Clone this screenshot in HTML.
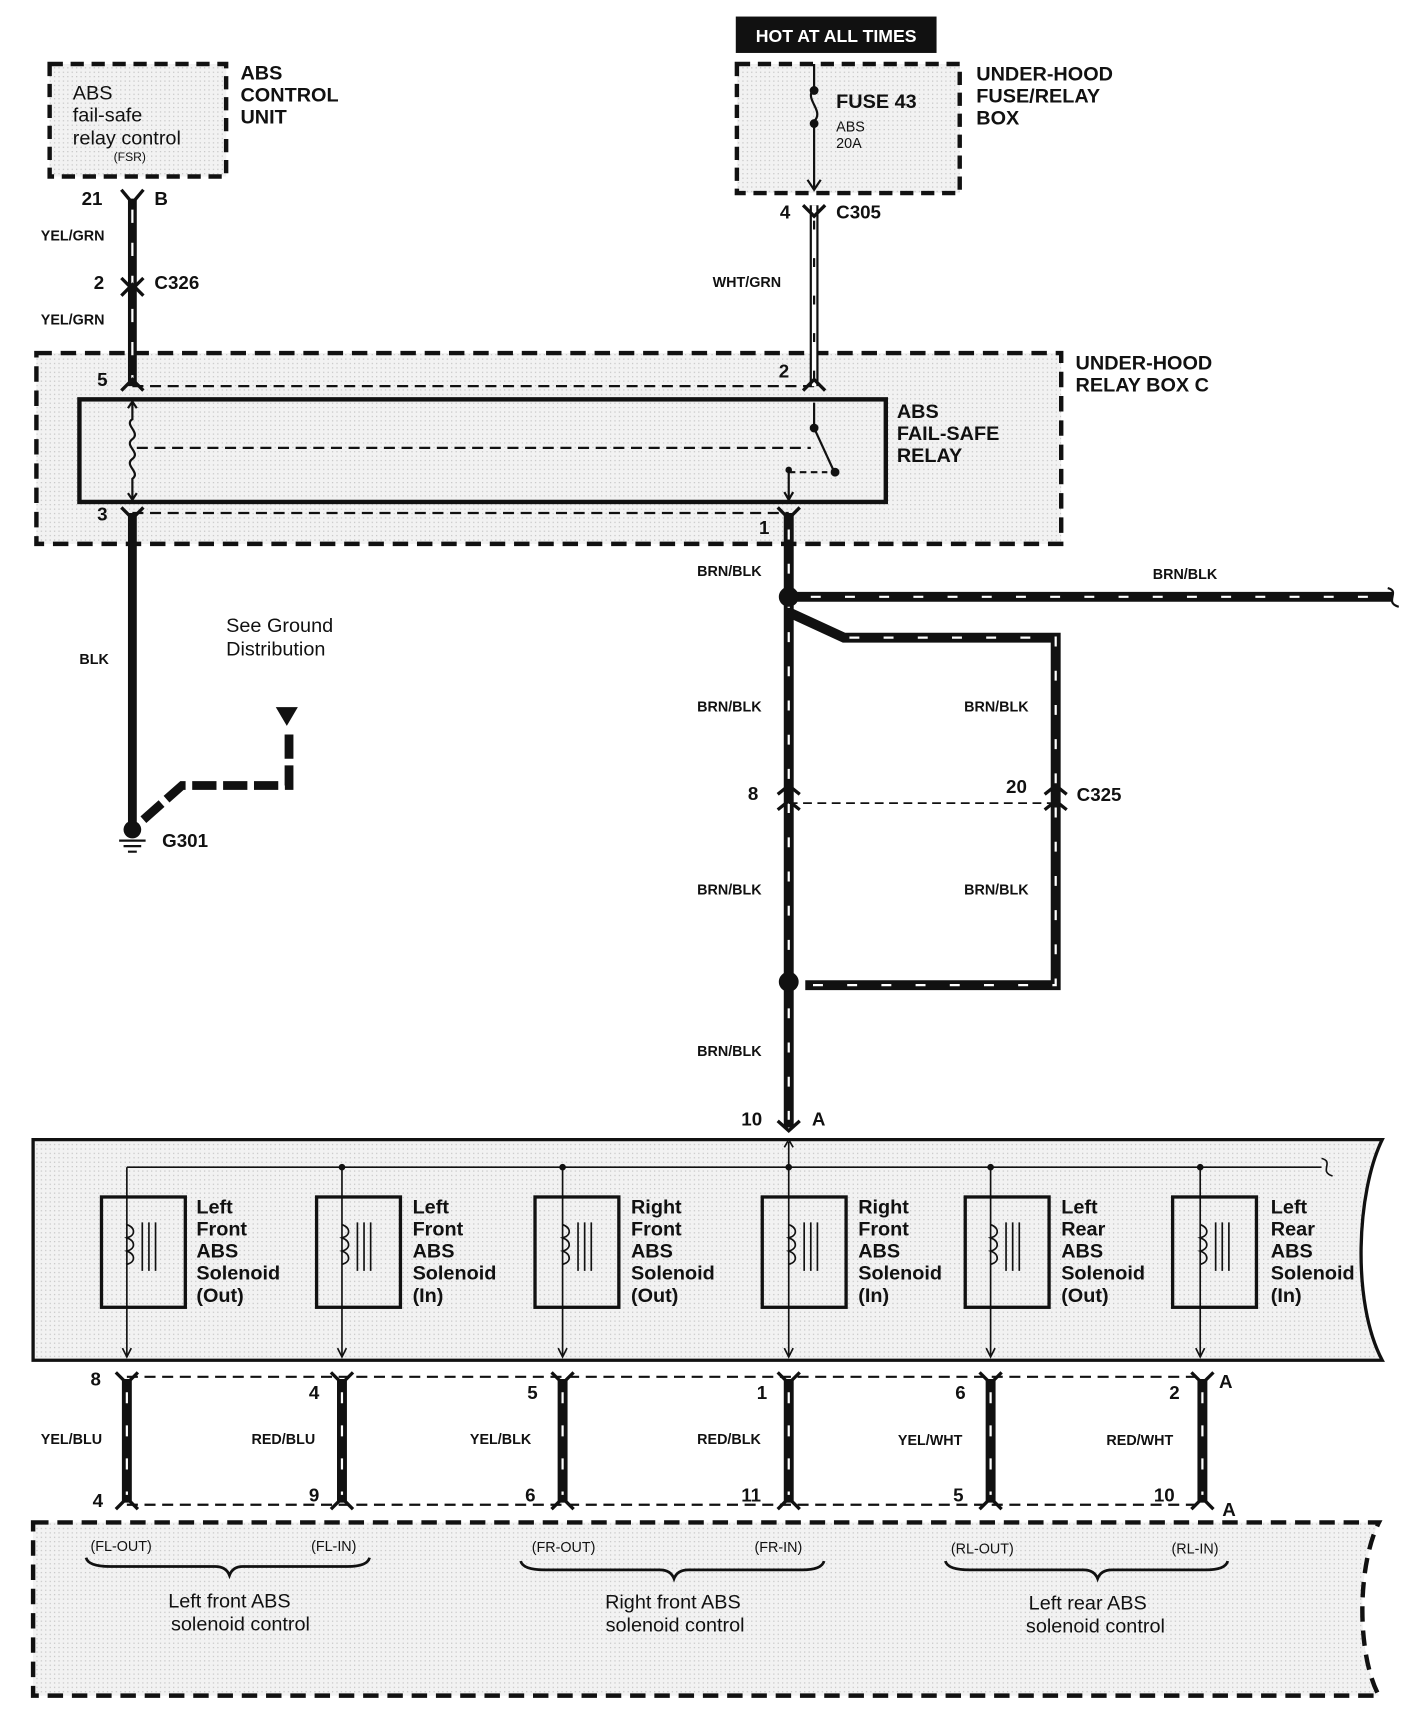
<!DOCTYPE html>
<html><head><meta charset="utf-8"><style>
html,body{margin:0;padding:0;background:#fff}
svg{display:block}
text{font-family:"Liberation Sans",sans-serif;fill:#111}
.b{font-weight:bold}
</style></head><body>
<svg width="1412" height="1721" viewBox="0 0 1280 1560" preserveAspectRatio="none" xmlns="http://www.w3.org/2000/svg">
<defs>
<pattern id="dots" width="4" height="4" patternUnits="userSpaceOnUse"><rect width="4" height="4" fill="#f2f2f2"/><rect x="1" y="1" width="1" height="1" fill="#bbb"/></pattern>
</defs>
<rect width="1280" height="1560" fill="#fff"/>

<!-- ABS control unit -->
<rect x="45" y="58" width="160" height="102" fill="url(#dots)" stroke="#111" stroke-width="4" stroke-dasharray="12,7"/>
<text x="66" y="90" font-size="18">ABS</text>
<text x="66" y="110" font-size="18">fail-safe</text>
<text x="66" y="131" font-size="18">relay control</text>
<text x="103" y="146" font-size="11">(FSR)</text>
<text class="b" x="218" y="72" font-size="18">ABS</text>
<text class="b" x="218" y="92" font-size="18">CONTROL</text>
<text class="b" x="218" y="112" font-size="18">UNIT</text>

<!-- HOT AT ALL TIMES -->
<rect x="667" y="15" width="182" height="33" fill="#111"/>
<text class="b" x="758" y="38" font-size="16" text-anchor="middle" style="fill:#fff">HOT AT ALL TIMES</text>
<rect x="668" y="58" width="202" height="117" fill="url(#dots)" stroke="#111" stroke-width="4" stroke-dasharray="12,7"/>
<path d="M738 58 V80 M738 80 C728 90 748 100 738 110 V170" fill="none" stroke="#111" stroke-width="2"/>
<circle cx="738" cy="82" r="4" fill="#111"/><circle cx="738" cy="112" r="4" fill="#111"/>
<path d="M732 163 L738 172 L744 163" fill="none" stroke="#111" stroke-width="2"/>
<text class="b" x="758" y="98" font-size="18">FUSE 43</text>
<text x="758" y="119" font-size="13">ABS</text>
<text x="758" y="134" font-size="13">20A</text>
<text class="b" x="885" y="73" font-size="18">UNDER-HOOD</text>
<text class="b" x="885" y="93" font-size="18">FUSE/RELAY</text>
<text class="b" x="885" y="113" font-size="18">BOX</text>

<!-- relay box C -->
<rect x="33" y="320" width="929" height="173" fill="url(#dots)" stroke="#111" stroke-width="4" stroke-dasharray="14,8"/>
<text class="b" x="975" y="335" font-size="18">UNDER-HOOD</text>
<text class="b" x="975" y="355" font-size="18">RELAY BOX C</text>
<line x1="120" y1="350" x2="738" y2="350" stroke="#111" stroke-width="2" stroke-dasharray="10,6"/>
<line x1="120" y1="465" x2="715" y2="465" stroke="#111" stroke-width="2" stroke-dasharray="10,6"/>
<rect x="72" y="362" width="731" height="93" fill="none" stroke="#111" stroke-width="4"/>
<text class="b" x="813" y="379" font-size="18">ABS</text>
<text class="b" x="813" y="399" font-size="18">FAIL-SAFE</text>
<text class="b" x="813" y="419" font-size="18">RELAY</text>
<path d="M120 365 V380 C112 385 128 392 120 398 C112 404 128 410 120 416 C112 422 128 428 120 434 V452" fill="none" stroke="#111" stroke-width="2"/>
<path d="M116 370 L120 364 L124 370 M116 447 L120 453 L124 447" fill="none" stroke="#111" stroke-width="2"/>
<line x1="124" y1="406" x2="735" y2="406" stroke="#111" stroke-width="2" stroke-dasharray="10,6"/>
<path d="M738 365 V388 L755 425" fill="none" stroke="#111" stroke-width="2"/>
<circle cx="738" cy="388" r="4" fill="#111"/><circle cx="757" cy="428" r="4" fill="#111"/>
<path d="M715 428 H750" stroke="#111" stroke-width="2" stroke-dasharray="6,4"/>
<path d="M715 425 V452 M711 446 L715 453 L719 446" fill="none" stroke="#111" stroke-width="2"/>
<circle cx="715" cy="426" r="3" fill="#111"/>

<!-- left wire YEL/GRN -->
<g stroke-linecap="butt">
<line x1="120" y1="180" x2="120" y2="350" stroke="#111" stroke-width="8"/>
<line x1="120" y1="190" x2="120" y2="345" stroke="#fff" stroke-width="2" stroke-dasharray="12,18"/>
<line x1="120" y1="465" x2="120" y2="748" stroke="#111" stroke-width="8"/>
<!-- WHT/GRN -->
<line x1="738" y1="186" x2="738" y2="350" stroke="#111" stroke-width="8"/>
<line x1="738" y1="186" x2="738" y2="350" stroke="#fff" stroke-width="4"/>
<line x1="738" y1="200" x2="738" y2="345" stroke="#111" stroke-width="2" stroke-dasharray="8,26"/>
<!-- BRN/BLK main -->
<line x1="715" y1="465" x2="715" y2="1022" stroke="#111" stroke-width="9"/>
<line x1="715" y1="480" x2="715" y2="1015" stroke="#fff" stroke-width="2" stroke-dasharray="9,22"/>
<line x1="715" y1="541" x2="1262" y2="541" stroke="#111" stroke-width="9"/>
<line x1="735" y1="541" x2="1255" y2="541" stroke="#fff" stroke-width="2" stroke-dasharray="9,22"/>
<path d="M715 555 L765 578 H957 V893 H730" fill="none" stroke="#111" stroke-width="9"/>
<path d="M770 578 H957 V893 H735" fill="none" stroke="#fff" stroke-width="2" stroke-dasharray="9,22"/>
</g>
<path d="M1258 533 C1270 536 1254 546 1268 550" fill="none" stroke="#111" stroke-width="2"/>
<circle cx="715" cy="541" r="9" fill="#111"/>
<circle cx="715" cy="890" r="9" fill="#111"/>
<line x1="715" y1="728" x2="957" y2="728" stroke="#111" stroke-width="1.5" stroke-dasharray="8,5"/>

<!-- connector marks -->
<g fill="none" stroke="#111" stroke-width="3">
<path d="M110 172 L120 184 L130 172"/>
<path d="M110 252 L120 262 L130 252 M110 268 L120 258 L130 268"/>
<path d="M110 354 L120 344 L130 354"/>
<path d="M110 460 L120 470 L130 460"/>
<path d="M728 186 L738 196 L748 186"/>
<path d="M728 354 L738 344 L748 354"/>
<path d="M705 460 L715 470 L725 460"/>
<path d="M705 720 L715 712 L725 720 M705 734 L715 726 L725 734"/>
<path d="M947 720 L957 712 L967 720 M947 734 L957 726 L967 734"/>
<path d="M705 1016 L715 1025 L725 1016"/>
</g>
<text class="b" x="74" y="186" font-size="17">21</text><text class="b" x="140" y="186" font-size="17">B</text>
<text class="b" x="37" y="218" font-size="13">YEL/GRN</text>
<text class="b" x="85" y="262" font-size="17">2</text><text class="b" x="140" y="262" font-size="17">C326</text>
<text class="b" x="37" y="294" font-size="13">YEL/GRN</text>
<text class="b" x="88" y="350" font-size="17">5</text>
<text class="b" x="88" y="472" font-size="17">3</text>
<text class="b" x="72" y="602" font-size="13">BLK</text>
<text x="205" y="573" font-size="18">See Ground</text>
<text x="205" y="594" font-size="18">Distribution</text>
<text class="b" x="707" y="198" font-size="17">4</text><text class="b" x="758" y="198" font-size="17">C305</text>
<text class="b" x="646" y="260" font-size="13">WHT/GRN</text>
<text class="b" x="706" y="342" font-size="17">2</text>
<text class="b" x="688" y="484" font-size="17">1</text>
<text class="b" x="632" y="522" font-size="13">BRN/BLK</text>
<text class="b" x="1045" y="525" font-size="13">BRN/BLK</text>
<text class="b" x="632" y="645" font-size="13">BRN/BLK</text>
<text class="b" x="874" y="645" font-size="13">BRN/BLK</text>
<text class="b" x="678" y="725" font-size="17">8</text>
<text class="b" x="912" y="719" font-size="17">20</text>
<text class="b" x="976" y="726" font-size="17">C325</text>
<text class="b" x="632" y="811" font-size="13">BRN/BLK</text>
<text class="b" x="874" y="811" font-size="13">BRN/BLK</text>
<text class="b" x="632" y="957" font-size="13">BRN/BLK</text>
<text class="b" x="672" y="1020" font-size="17">10</text><text class="b" x="736" y="1020" font-size="17">A</text>

<!-- ground -->
<path d="M130 743 L165 712 H262 V665" fill="none" stroke="#111" stroke-width="8" stroke-dasharray="22,6"/>
<path d="M250 641 H270 L260 658 Z" fill="#111"/>
<circle cx="120" cy="752" r="8" fill="#111"/>
<path d="M108 762 H132 M112 767 H128 M116 772 H124" stroke="#111" stroke-width="2"/>
<text class="b" x="147" y="768" font-size="17">G301</text>

<!-- module box -->
<path d="M30 1033 H1253 C1230 1080 1225 1180 1253 1233 H30 Z" fill="url(#dots)" stroke="#111" stroke-width="3"/>
<line x1="115" y1="1058" x2="1198" y2="1058" stroke="#111" stroke-width="1.5"/>
<path d="M1198 1050 C1210 1053 1195 1062 1208 1066" fill="none" stroke="#111" stroke-width="1.5"/>
<path d="M711 1040 L715 1033 L719 1040" fill="none" stroke="#111" stroke-width="1.5"/>
<g fill="none" stroke="#111">
<g id="s1">
</g>
</g>
<!-- solenoids -->
<g font-size="18" class="b">
<g transform="translate(115,0)">
<rect x="-23" y="1085" width="76" height="100" fill="none" stroke="#111" stroke-width="3"/>
<line x1="0" y1="1058" x2="0" y2="1230" stroke="#111" stroke-width="1.5"/>
<path d="M0 1110 C8 1113 8 1120 0 1122 C8 1125 8 1132 0 1134 C8 1137 8 1144 0 1146" fill="none" stroke="#111" stroke-width="1.5"/>
<path d="M14 1108 V1152 M20 1108 V1152 M26 1108 V1152" stroke="#111" stroke-width="1.5"/>
<path d="M-4 1222 L0 1230 L4 1222" fill="none" stroke="#111" stroke-width="1.5"/>
</g>
<g transform="translate(310,0)">
<rect x="-23" y="1085" width="76" height="100" fill="none" stroke="#111" stroke-width="3"/>
<line x1="0" y1="1058" x2="0" y2="1230" stroke="#111" stroke-width="1.5"/><circle cx="0" cy="1058" r="3" fill="#111"/>
<path d="M0 1110 C8 1113 8 1120 0 1122 C8 1125 8 1132 0 1134 C8 1137 8 1144 0 1146" fill="none" stroke="#111" stroke-width="1.5"/>
<path d="M14 1108 V1152 M20 1108 V1152 M26 1108 V1152" stroke="#111" stroke-width="1.5"/>
<path d="M-4 1222 L0 1230 L4 1222" fill="none" stroke="#111" stroke-width="1.5"/>
</g>
<g transform="translate(510,0)">
<rect x="-25" y="1085" width="76" height="100" fill="none" stroke="#111" stroke-width="3"/>
<line x1="0" y1="1058" x2="0" y2="1230" stroke="#111" stroke-width="1.5"/><circle cx="0" cy="1058" r="3" fill="#111"/>
<path d="M0 1110 C8 1113 8 1120 0 1122 C8 1125 8 1132 0 1134 C8 1137 8 1144 0 1146" fill="none" stroke="#111" stroke-width="1.5"/>
<path d="M14 1108 V1152 M20 1108 V1152 M26 1108 V1152" stroke="#111" stroke-width="1.5"/>
<path d="M-4 1222 L0 1230 L4 1222" fill="none" stroke="#111" stroke-width="1.5"/>
</g>
<g transform="translate(715,0)">
<rect x="-24" y="1085" width="76" height="100" fill="none" stroke="#111" stroke-width="3"/>
<line x1="0" y1="1035" x2="0" y2="1230" stroke="#111" stroke-width="1.5"/><circle cx="0" cy="1058" r="3" fill="#111"/>
<path d="M0 1110 C8 1113 8 1120 0 1122 C8 1125 8 1132 0 1134 C8 1137 8 1144 0 1146" fill="none" stroke="#111" stroke-width="1.5"/>
<path d="M14 1108 V1152 M20 1108 V1152 M26 1108 V1152" stroke="#111" stroke-width="1.5"/>
<path d="M-4 1222 L0 1230 L4 1222" fill="none" stroke="#111" stroke-width="1.5"/>
</g>
<g transform="translate(898,0)">
<rect x="-23" y="1085" width="76" height="100" fill="none" stroke="#111" stroke-width="3"/>
<line x1="0" y1="1058" x2="0" y2="1230" stroke="#111" stroke-width="1.5"/><circle cx="0" cy="1058" r="3" fill="#111"/>
<path d="M0 1110 C8 1113 8 1120 0 1122 C8 1125 8 1132 0 1134 C8 1137 8 1144 0 1146" fill="none" stroke="#111" stroke-width="1.5"/>
<path d="M14 1108 V1152 M20 1108 V1152 M26 1108 V1152" stroke="#111" stroke-width="1.5"/>
<path d="M-4 1222 L0 1230 L4 1222" fill="none" stroke="#111" stroke-width="1.5"/>
</g>
<g transform="translate(1088,0)">
<rect x="-25" y="1085" width="76" height="100" fill="none" stroke="#111" stroke-width="3"/>
<line x1="0" y1="1058" x2="0" y2="1230" stroke="#111" stroke-width="1.5"/><circle cx="0" cy="1058" r="3" fill="#111"/>
<path d="M0 1110 C8 1113 8 1120 0 1122 C8 1125 8 1132 0 1134 C8 1137 8 1144 0 1146" fill="none" stroke="#111" stroke-width="1.5"/>
<path d="M14 1108 V1152 M20 1108 V1152 M26 1108 V1152" stroke="#111" stroke-width="1.5"/>
<path d="M-4 1222 L0 1230 L4 1222" fill="none" stroke="#111" stroke-width="1.5"/>
</g>
<text x="178" y="1100">Left</text><text x="178" y="1120">Front</text><text x="178" y="1140">ABS</text><text x="178" y="1160">Solenoid</text><text x="178" y="1180">(Out)</text>
<text x="374" y="1100">Left</text><text x="374" y="1120">Front</text><text x="374" y="1140">ABS</text><text x="374" y="1160">Solenoid</text><text x="374" y="1180">(In)</text>
<text x="572" y="1100">Right</text><text x="572" y="1120">Front</text><text x="572" y="1140">ABS</text><text x="572" y="1160">Solenoid</text><text x="572" y="1180">(Out)</text>
<text x="778" y="1100">Right</text><text x="778" y="1120">Front</text><text x="778" y="1140">ABS</text><text x="778" y="1160">Solenoid</text><text x="778" y="1180">(In)</text>
<text x="962" y="1100">Left</text><text x="962" y="1120">Rear</text><text x="962" y="1140">ABS</text><text x="962" y="1160">Solenoid</text><text x="962" y="1180">(Out)</text>
<text x="1152" y="1100">Left</text><text x="1152" y="1120">Rear</text><text x="1152" y="1140">ABS</text><text x="1152" y="1160">Solenoid</text><text x="1152" y="1180">(In)</text>
</g>

<!-- lower wires -->
<line x1="115" y1="1248" x2="1090" y2="1248" stroke="#111" stroke-width="2" stroke-dasharray="10,6"/>
<line x1="115" y1="1364" x2="1090" y2="1364" stroke="#111" stroke-width="2" stroke-dasharray="10,6"/>
<g stroke="#111">
<g stroke-width="9"><line x1="115" y1="1250" x2="115" y2="1362"/><line x1="310" y1="1250" x2="310" y2="1362"/><line x1="510" y1="1250" x2="510" y2="1362"/><line x1="715" y1="1250" x2="715" y2="1362"/><line x1="898" y1="1250" x2="898" y2="1362"/><line x1="1090" y1="1250" x2="1090" y2="1362"/></g>
<g stroke="#fff" stroke-width="2" stroke-dasharray="10,20"><line x1="115" y1="1262" x2="115" y2="1355"/><line x1="310" y1="1262" x2="310" y2="1355"/><line x1="510" y1="1262" x2="510" y2="1355"/><line x1="715" y1="1262" x2="715" y2="1355"/><line x1="898" y1="1262" x2="898" y2="1355"/><line x1="1090" y1="1262" x2="1090" y2="1355"/></g>
</g>
<g fill="none" stroke="#111" stroke-width="3">
<path d="M105 1244 L115 1254 L125 1244 M105 1368 L115 1358 L125 1368"/>
<path d="M300 1244 L310 1254 L320 1244 M300 1368 L310 1358 L320 1368"/>
<path d="M500 1244 L510 1254 L520 1244 M500 1368 L510 1358 L520 1368"/>
<path d="M705 1244 L715 1254 L725 1244 M705 1368 L715 1358 L725 1368"/>
<path d="M888 1244 L898 1254 L908 1244 M888 1368 L898 1358 L908 1368"/>
<path d="M1080 1244 L1090 1254 L1100 1244 M1080 1368 L1090 1358 L1100 1368"/>
</g>
<g class="b" font-size="17">
<text x="82" y="1256">8</text><text x="280" y="1268">4</text><text x="478" y="1268">5</text><text x="686" y="1268">1</text><text x="866" y="1268">6</text><text x="1060" y="1268">2</text><text x="1105" y="1258">A</text>
<text x="84" y="1366">4</text><text x="280" y="1361">9</text><text x="476" y="1361">6</text><text x="672" y="1361">11</text><text x="864" y="1361">5</text><text x="1046" y="1361">10</text><text x="1108" y="1374">A</text>
</g>
<g class="b" font-size="13">
<text x="37" y="1309">YEL/BLU</text><text x="228" y="1309">RED/BLU</text><text x="426" y="1309">YEL/BLK</text><text x="632" y="1309">RED/BLK</text><text x="814" y="1310">YEL/WHT</text><text x="1003" y="1310">RED/WHT</text>
</g>

<!-- bottom box -->
<path d="M30 1380 H1250 C1230 1420 1230 1500 1250 1537 H30 Z" fill="url(#dots)" stroke="#111" stroke-width="4" stroke-dasharray="14,8"/>
<g font-size="13">
<text x="82" y="1406">(FL-OUT)</text><text x="282" y="1406">(FL-IN)</text>
<text x="482" y="1407">(FR-OUT)</text><text x="684" y="1407">(FR-IN)</text>
<text x="862" y="1408">(RL-OUT)</text><text x="1062" y="1408">(RL-IN)</text>
</g>
<g fill="none" stroke="#111" stroke-width="2.5">
<path d="M78 1412 Q80 1420 100 1420 H195 Q205 1420 208 1428 Q211 1420 220 1420 H315 Q333 1420 335 1412"/>
<path d="M472 1415 Q474 1423 494 1423 H598 Q608 1423 611 1431 Q614 1423 624 1423 H727 Q745 1423 747 1415"/>
<path d="M857 1415 Q859 1423 879 1423 H982 Q992 1423 995 1431 Q998 1423 1008 1423 H1093 Q1111 1423 1113 1415"/>
</g>
<g font-size="18" text-anchor="middle">
<text x="208" y="1457">Left front ABS</text><text x="218" y="1478">solenoid control</text>
<text x="610" y="1458">Right front ABS</text><text x="612" y="1479">solenoid control</text>
<text x="986" y="1459">Left rear ABS</text><text x="993" y="1480">solenoid control</text>
</g>
</svg>
</body></html>
